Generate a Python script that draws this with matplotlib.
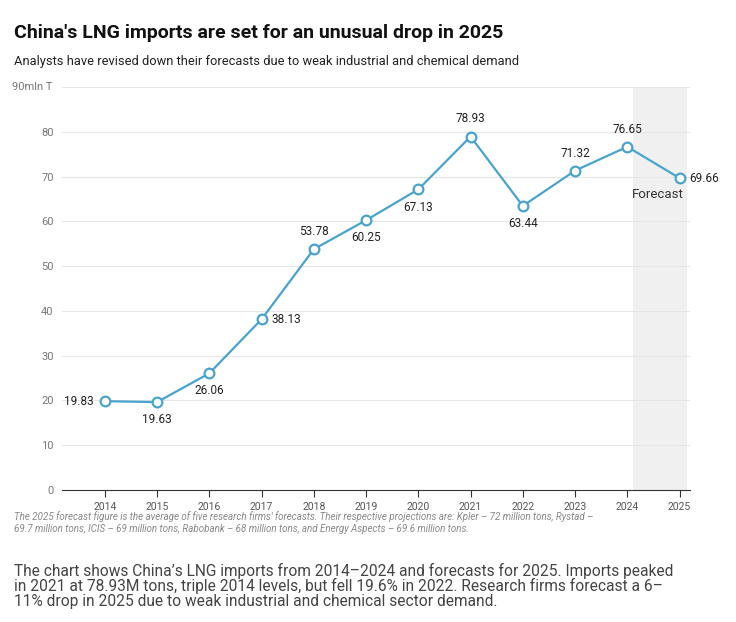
import matplotlib
matplotlib.use("Agg")
import matplotlib.pyplot as plt

plt.rcParams['font.family'] = ['Roboto', 'DejaVu Sans']

years = ["2014","2015","2016","2017","2018","2019","2020","2021","2022","2023","2024","2025"]
values = [19.83,19.63,26.06,38.13,53.78,60.25,67.13,78.93,63.44,71.32,76.65,69.66]
label_pos = ['l','b','b','r','a','b','b','a','b','a','a','r']
yticks = [0,10,20,30,40,50,60,70,80]
ytick_labels = ["0","10","20","30","40","50","60","70","80"]

W, H = 736, 622
fig = plt.figure(figsize=(W/100, H/100), dpi=100)
ax = fig.add_axes([62/W, 1-490/H, (690-62)/W, (490-87)/H])
n = len(years)
x = list(range(n))
ax.set_xlim(-0.82, n-1+0.2)
ax.set_ylim(0, 90)
ax.axvspan(n-1.9, n-1+0.15, color="#f0f0f0", zorder=0, lw=0)
for t in yticks[1:] + [90]:
    ax.axhline(t, color="#e6e6e6", lw=0.8, zorder=0)
ax.plot(x, values, color="#4aa3cc", lw=1.6, marker="o", ms=7,
        mfc="white", mec="#4aa3cc", mew=1.6, zorder=3)
for xi, v, p in zip(x, values, label_pos):
    kw = dict(fontsize=8.5, color="#222222")
    if p == 'l':
        ax.annotate(f"{v:.2f}", (xi, v), xytext=(-8, 0), textcoords="offset points", ha="right", va="center", **kw)
    elif p == 'r':
        ax.annotate(f"{v:.2f}", (xi, v), xytext=(7, 0), textcoords="offset points", ha="left", va="center", **kw)
    elif p == 'b':
        ax.annotate(f"{v:.2f}", (xi, v), xytext=(0, -8), textcoords="offset points", ha="center", va="top", **kw)
    else:
        ax.annotate(f"{v:.2f}", (xi, v), xytext=(0, 8), textcoords="offset points", ha="center", va="bottom", **kw)
ax.text(n-1.42, 66, "Forecast", ha="center", va="center", fontsize=9.5, color="#333333")
ax.text(-0.82, 90, "90mln T", transform=ax.transData, ha="left", va="bottom", fontsize=8, color="#777777")
ax.text(-1.0, 90, "", fontsize=8)
ax.set_xticks(x)
ax.set_xticklabels(years, fontsize=7.5, color="#555555")
ax.set_yticks(yticks)
ax.set_yticklabels(ytick_labels, fontsize=8, color="#777777")
ax.tick_params(axis="y", length=0, pad=6)
ax.tick_params(axis="x", length=5, color="#333333", pad=4)
for s in ["top","right","left"]:
    ax.spines[s].set_visible(False)
ax.spines["bottom"].set_color("#333333")
# put "90mln T" label at the left like reference
ax.texts[-2].set_position((-0.98, 90))
ax.texts[-2].set_verticalalignment("center")
ax.texts[-2].set_horizontalalignment("left")
ax.texts[-2].set_x(-0.82 - 50/52.3)

fig.text(14/W, 1-33/H, "China's LNG imports are set for an unusual drop in 2025", fontsize=14, fontweight="bold", va="center", color="#111111")
fig.text(14/W, 1-62/H, "Analysts have revised down their forecasts due to weak industrial and chemical demand", fontsize=9.3, va="center", color="#222222")
fig.text(14/W, 1-511/H, "The 2025 forecast figure is the average of five research firms' forecasts. Their respective projections are: Kpler – 72 million tons, Rystad –\n69.7 million tons, ICIS – 69 million tons, Rabobank – 68 million tons, and Energy Aspects – 69.6 million tons.",
         fontsize=7, style="italic", color="#888888", va="top", linespacing=1.3)
fig.text(14/W, 1-563/H, "The chart shows China’s LNG imports from 2014–2024 and forecasts for 2025. Imports peaked\nin 2021 at 78.93M tons, triple 2014 levels, but fell 19.6% in 2022. Research firms forecast a 6–\n11% drop in 2025 due to weak industrial and chemical sector demand.",
         fontsize=11.2, color="#444444", va="top", linespacing=0.95)
fig.savefig("out.png", dpi=100, facecolor="white")
